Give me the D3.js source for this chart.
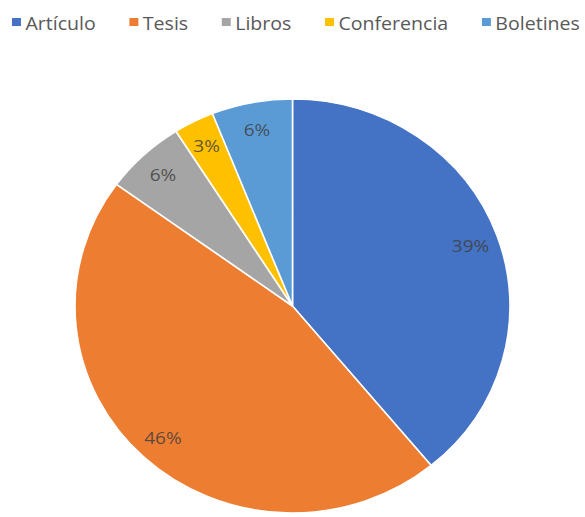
<!DOCTYPE html>
<html>
<head>
<meta charset="utf-8">
<script src="https://cdn.jsdelivr.net/npm/d3@7"></script>
<style>
  html, body { margin: 0; padding: 0; background: #fff; }
  svg { display: block; }
</style>
</head>
<body>
<svg id="chart" width="585" height="517"></svg>
<script>
const categories = ["Artículo", "Tesis", "Libros", "Conferencia", "Boletines"];
const values = [39, 46, 6, 3, 6];
const labels = ["39%", "46%", "6%", "3%", "6%"];
const colors = ["#4472C4", "#ED7D31", "#A5A5A5", "#FFC000", "#5B9BD5"];

const W = 585, H = 517;
const cx = 292.5, cy = 306, rx = 217.5, ry = 207;
const sy = ry / rx;
const fontFam = "'Open Sans', 'Noto Sans', sans-serif";

const svg = d3.select("#chart");

const data = categories.map((c, i) => ({ cat: c, value: values[i], label: labels[i], color: colors[i] }));
const pie = d3.pie().sort(null).value(d => d.value);
const arcs = pie(data);
const arc = d3.arc().innerRadius(0).outerRadius(rx);
const labelArc = d3.arc().innerRadius(rx * 0.87).outerRadius(rx * 0.87);

const g = svg.append("g").attr("transform", `translate(${cx},${cy})`);
const pg = g.append("g").attr("transform", `scale(1,${sy})`);
pg.selectAll("path").data(arcs).join("path")
  .attr("d", arc)
  .attr("fill", d => d.data.color)
  .attr("stroke", "#fff")
  .attr("stroke-width", 1.6)
  .attr("vector-effect", "non-scaling-stroke");

g.selectAll("text.lbl").data(arcs).join("text")
  .attr("class", "lbl")
  .attr("transform", d => {
    const c = labelArc.centroid(d);
    return `translate(${c[0]},${c[1] * sy}) scale(1.12,1)`;
  })
  .attr("text-anchor", "middle")
  .attr("dominant-baseline", "central")
  .attr("font-family", fontFam)
  .attr("font-size", "17px")
  .attr("fill", "#404040")
  .attr("fill-opacity", 0.85)
  .text(d => d.data.label);

// Legend
const leg = svg.append("g");
let x = 0;
const baseY = 30;
const gap = 30;
data.forEach(d => {
  const it = leg.append("g");
  it.append("rect").attr("x", x).attr("y", baseY - 12).attr("width", 8).attr("height", 8).attr("fill", d.color);
  const t = it.append("text")
    .attr("x", x + 12).attr("y", baseY)
    .attr("font-family", fontFam)
    .attr("font-size", "17.5px")
    .attr("fill", "#595959")
    .text(d.cat);
  const w = t.node().getComputedTextLength();
  x += 12 + w + gap;
});
const total = x - gap;
const legLeft = 12, legRight = 580;
const sx = (legRight - legLeft) / total;
leg.attr("transform", `translate(${legLeft},0) scale(${sx},1)`);
</script>
</body>
</html>
